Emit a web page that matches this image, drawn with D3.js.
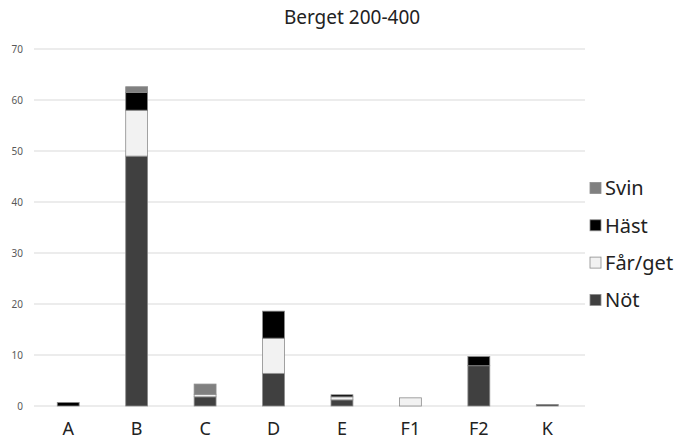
<!DOCTYPE html>
<html><head><meta charset="utf-8">
<script src="https://cdn.jsdelivr.net/npm/d3@7"></script>
<style>body{margin:0;background:#fff}svg{display:block}</style>
</head><body>
<svg id="c" width="694" height="442"></svg>
<script>
const categories = ["A","B","C","D","E","F1","F2","K"];
const seriesNames = ["Nöt","Får/get","Häst","Svin"];
const notValues   = [0,   49.0, 1.8, 6.4, 1.2, 0,   7.9, 0.3];
const farValues   = [0,   9.0,  0.5, 6.9, 0.6, 1.6, 0,   0];
const hastValues  = [0.7, 3.5,  0,   5.3, 0.4, 0,   1.8, 0];
const svinValues  = [0,   1.1,  2.0, 0,   0,   0,   0,   0];
const yTicks = [0,10,20,30,40,50,60,70];
const colors = ["#404040","#f2f2f2","#000000","#808080"];

const svg = d3.select("#c");
const x = d3.scaleBand().domain(categories).range([34, 581.5]).paddingInner(0.68).paddingOuter(0.34);
const y = d3.scaleLinear().domain([0,70]).range([406,49]);

const rows = categories.map((c,i)=>({cat:c, "Nöt":notValues[i], "Får/get":farValues[i], "Häst":hastValues[i], "Svin":svinValues[i]}));
const stacked = d3.stack().keys(seriesNames)(rows);

// gridlines
svg.append("g").selectAll("line").data(yTicks).join("line")
  .attr("x1",34).attr("x2",585).attr("y1",d=>y(d)).attr("y2",d=>y(d))
  .attr("stroke","#d9d9d9").attr("stroke-width",1);

// y axis labels
const yAxis = d3.axisLeft(y).tickValues(yTicks).tickSize(0).tickPadding(0);
const yg = svg.append("g").attr("transform","translate(23,0)").call(yAxis);
yg.select(".domain").remove();
yg.selectAll("text").attr("font-family","Noto Sans, sans-serif").attr("font-size",10).attr("fill","#595959");

// bars
svg.append("g").selectAll("g").data(stacked).join("g")
  .attr("fill",(d,i)=>colors[i])
  .selectAll("rect").data(d=>d.filter(s=>s[1]-s[0]>0)).join("rect")
  .attr("x",d=>x(d.data.cat)).attr("width",x.bandwidth())
  .attr("y",d=>y(d[1])).attr("height",d=>y(d[0])-y(d[1]))
  .attr("stroke","#8c8c8c").attr("stroke-width",0.8);

// x axis labels
const xAxis = d3.axisBottom(x).tickSize(0).tickPadding(0);
const xg = svg.append("g").attr("transform","translate(0,422)").call(xAxis);
xg.select(".domain").remove();
xg.selectAll("text").attr("font-family","Noto Sans, sans-serif").attr("font-size",18).attr("fill","#222");

// title
svg.append("text").attr("x",352).attr("y",24).attr("text-anchor","middle")
  .attr("font-family","Noto Sans, sans-serif").attr("font-size",19).attr("fill","#222")
  .text("Berget 200-400");

// legend
const legendOrder = ["Svin","Häst","Får/get","Nöt"];
const lg = svg.append("g").selectAll("g").data(legendOrder).join("g")
  .attr("transform",(d,i)=>`translate(590,${188+i*37.3})`);
lg.append("rect").attr("x",0).attr("y",-5.5).attr("width",11).attr("height",11)
  .attr("fill",d=>colors[seriesNames.indexOf(d)]).attr("stroke","#8c8c8c").attr("stroke-width",0.8);
lg.append("text").attr("x",15).attr("y",0).attr("dy","0.36em")
  .attr("font-family","Noto Sans, sans-serif").attr("font-size",20).attr("fill","#222")
  .text(d=>d);
</script>
</body></html>
